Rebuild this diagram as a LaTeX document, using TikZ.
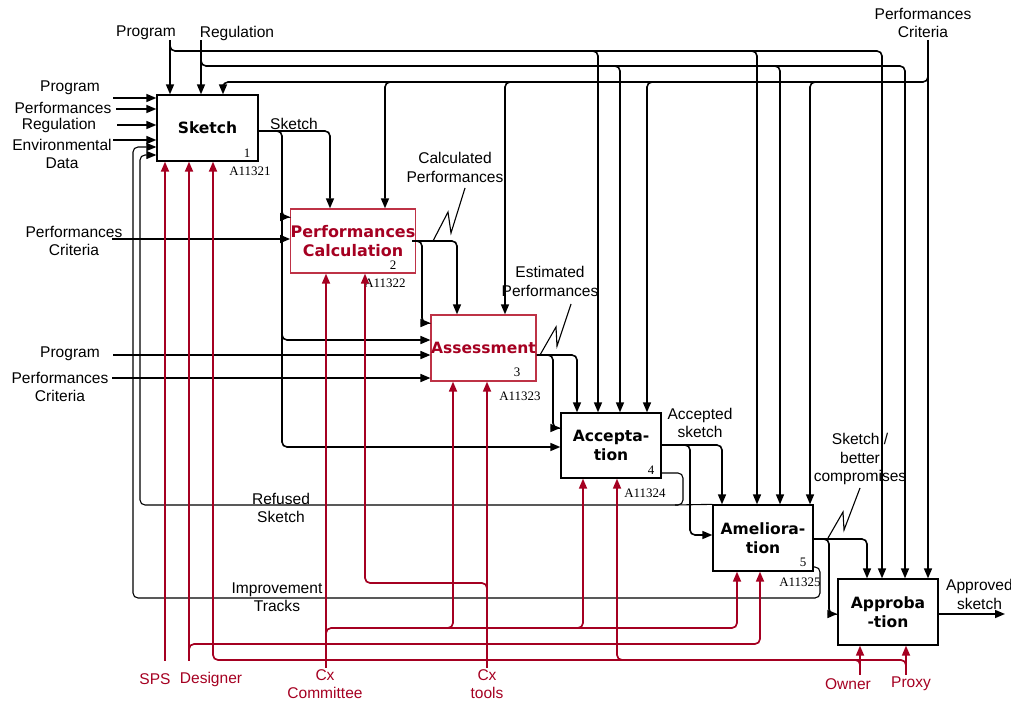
\documentclass[tikz,border=0pt]{standalone}
\usepackage{fontspec}
\setmainfont{Liberation Sans}
\newfontfamily\boxfam{DejaVu Sans}
\newfontfamily\numfam{Liberation Serif}
\usetikzlibrary{arrows.meta}
\definecolor{idefred}{RGB}{165,0,33}
\definecolor{boxred}{RGB}{190,50,70}
\newcommand\labf{\fontsize{15.6}{18.5}\selectfont}
\newcommand\boxf{\boxfam\bfseries\fontsize{15.6}{18.5}\selectfont}
\newcommand\boxfs{\boxfam\bfseries\fontsize{16}{19.5}\selectfont}
\newcommand\numf{\numfam\fontsize{13}{15}\selectfont}
\tikzset{
  box/.style={draw, line width=1.3bp, inner sep=0pt, minimum width=101bp, minimum height=66bp, font=\boxf, align=center},
  redbox/.style={box, draw=boxred, text=idefred},
  lab/.style={font=\labf, align=center, inner sep=0pt},
  rlab/.style={lab, text=idefred},
  num/.style={font=\numf, inner sep=0pt},
  arr/.style={line width=1.6bp, rounded corners=5bp, -{Triangle[length=10bp,width=8bp]}},
  plain/.style={line width=1.6bp, rounded corners=5bp},
  loopline/.style={line width=1.1bp, rounded corners=5bp},
  looparr/.style={loopline, -{Triangle[length=10bp,width=8bp]}},
  squig/.style={line width=1.1bp},
  rarr/.style={draw=idefred, line width=1.7bp, rounded corners=5bp, {Triangle[length=10bp,width=8bp]}-},
  rline/.style={draw=idefred, line width=1.3bp, rounded corners=5bp}
}
\begin{document}
\begin{tikzpicture}[x=1bp,y=-1bp]
\useasboundingbox (0,0) rectangle (1011,701);

% activity boxes
\node[box] (sk) at (207.5,128) {Sketch};
\node[redbox, minimum width=100bp, minimum height=64bp, font=\boxfs] (pc) at (353,241) {Performances\\Calculation};
\node[redbox] (as) at (483.5,348) {Assessment};
\node[box, minimum width=100bp, minimum height=65bp] (ac) at (611,445.5) {Accepta-\\tion};
\node[box, minimum width=100bp] (am) at (763,538) {Ameliora-\\tion};
\node[box, minimum width=100bp] (ap) at (888,612) {Approba\\-tion};

% box numbers and references
\node[num] (n1) at (247,153) {1};
\node[num] (r1) at (250,171) {A11321};
\node[num] (n2) at (393,265) {2};
\node[num] (r2) at (385,283) {A11322};
\node[num] (n3) at (517,372) {3};
\node[num] (r3) at (520,396) {A11323};
\node[num] (n4) at (651,470) {4};
\node[num] (r4) at (645,493) {A11324};
\node[num] (n5) at (803,562) {5};
\node[num] (r5) at (800,582) {A11325};

% ---- top controls ----
\node[lab] (tprog) at (146,33) {Program};
\draw[arr] (170,40) -- (sk.north -| 170,0);
\draw[arr] (170,42) |- (882,51) -- (ap.north -| 882,0);
\draw[arr] (588,51) -| (ac.north -| 598,0);
\draw[arr] (747,51) -| (am.north -| 757,0);

\node[lab] (treg) at (237,33) {Regulation};
\draw[arr] (201,40) -- (sk.north -| 201,0);
\draw[arr] (201,55) |- (905,66) -- (ap.north -| 905,0);
\draw[arr] (610,66) -| (ac.north -| 620,0);
\draw[arr] (770,66) -| (am.north -| 780,0);

\node[lab] (tpc) at (923,23) {Performances\\Criteria};
\draw[arr] (928,40) -- (ap.north -| 928,0);
\draw[arr] (928,72) |- (223,82) -- (sk.north -| 223,0);
\draw[arr] (395,82) -| (pc.north -| 385,0);
\draw[arr] (515,82) -| (as.north -| 505,0);
\draw[arr] (657,82) -| (ac.north -| 647,0);
\draw[arr] (820,82) -| (am.north -| 810,0);

% ---- left inputs of Sketch ----
\node[lab] (lprog) at (70,88) {Program};
\node[lab] (lperf) at (63,108) {Performances};
\node[lab] (lreg) at (59,125) {Regulation};
\node[lab] (lenv) at (62,154) {Environmental\\Data};
\draw[arr] (113,98) -- (sk.west |- 0,98);
\draw[arr] (116,109) -- (sk.west |- 0,109);
\draw[arr] (117,125) -- (sk.west |- 0,125);
\draw[arr] (113,140) -- (sk.west |- 0,140);

% feedback loops
\draw[looparr] (am.east |- 0,567) -| (820,598) -| (133,147) -- (sk.west |- 0,147);
\draw[looparr] (ac.east |- 0,473) -| (683,505) -| (140,155) -- (sk.west |- 0,155);
\draw[loopline] (675,505) -- (am.north west);
\node[lab] (lref) at (281,508) {Refused\\Sketch};
\node[lab] (limp) at (277,597) {Improvement\\Tracks};

% ---- Sketch output ----
\node[lab] (lsk) at (294,124) {Sketch};
\draw[arr] (sk.east |- 0,131) -| (pc.north -| 330,0);
\draw[arr] (270,131) -| (282,447) -- (ac.west |- 0,447);
\draw[arr] (282,205) |- (pc.west |- 0,217);
\draw[arr] (282,330) |- (as.west |- 0,340);

% ---- Performances Calculation ----
\node[lab] (lpc2) at (74,241) {Performances\\Criteria};
\draw[arr] (112,239) -- (pc.west |- 0,239);
\draw[arr] (pc.east |- 0,241) -| (as.north -| 457,0);
\draw[arr] (412,241) -| (422,323) -- (as.west |- 0,323);
\draw[squig] (433,241) -- (448,212) -- (451,233) -- (465,188);
\node[lab] (lcalc) at (455,167.5) {Calculated\\Performances};

% ---- Assessment ----
\node[lab] (lprog3) at (70,354) {Program};
\node[lab] (lpc3) at (60,387) {Performances\\Criteria};
\draw[arr] (113,355) -- (as.west |- 0,355);
\draw[arr] (112,378) -- (as.west |- 0,378);
\draw[arr] (as.east |- 0,355) -| (ac.north -| 577,0);
\draw[arr] (543,355) -| (553,428) -- (ac.west |- 0,428);
\draw[squig] (540,355) -- (556,327) -- (557,346) -- (571,304);
\node[lab] (lest) at (550,281.5) {Estimated\\Performances};

% ---- Acceptation ----
\draw[arr] (ac.east |- 0,445) -| (am.north -| 722,0);
\draw[arr] (680,445) -| (690,535) -- (am.west |- 0,535);
\node[lab] (lacc) at (700,423) {Accepted\\sketch};

% ---- Amelioration ----
\draw[arr] (am.east |- 0,539) -| (ap.north -| 867,0);
\draw[arr] (822,539) -| (829,614) -- (ap.west |- 0,614);
\draw[squig] (828,538) -- (843,512) -- (844,530) -- (860,488);
\node[lab] (lbet) at (860,459) {Sketch /\\better\\compromises};

% ---- Approbation ----
\coordinate (outend) at (1005,614);
\draw[arr] (ap.east |- 0,614) -- (outend);
\node[lab, anchor=west] (lapp) at (946,594.5) {Approved\\sketch};

% ---- mechanisms (red) ----
\draw[rarr] (sk.south -| 165,0) -- (165,661);
\draw[rarr] (sk.south -| 189,0) -- (189,661);
\draw[rarr] (am.south -| 760,0) |- (189,644) -- (189,655);
\draw[rarr] (sk.south -| 213,0) |- (906,660) -- (906,672);
\draw[rarr] (ac.south -| 617,0) |- (630,660);
\draw[rarr] (ap.south -| 860,0) -- (860,675);
\draw[rarr] (ap.south -| 906,0) -- (906,675);
\draw[rline] (848,660) -| (860,672);

\draw[rarr] (pc.south -| 326,0) -- (326,668);
\draw[rarr] (am.south -| 737,0) |- (326,628) -- (326,640);
\draw[rarr] (as.south -| 453,0) |- (440,628);
\draw[rarr] (ac.south -| 583,0) |- (570,628);

\draw[rarr] (as.south -| 487,0) -- (487,668);
\draw[rarr] (pc.south -| 365,0) |- (487,583) -- (487,595);

\node[rlab] (msps) at (155,679) {SPS};
\node[rlab] (mdes) at (211,679) {Designer};
\node[rlab] (mcom) at (325,684) {Cx\\Committee};
\node[rlab] (mtool) at (487,684) {Cx\\tools};
\node[rlab] (mown) at (848,684) {Owner};
\node[rlab] (mprox) at (911,684) {Proxy};
\end{tikzpicture}
\end{document}
